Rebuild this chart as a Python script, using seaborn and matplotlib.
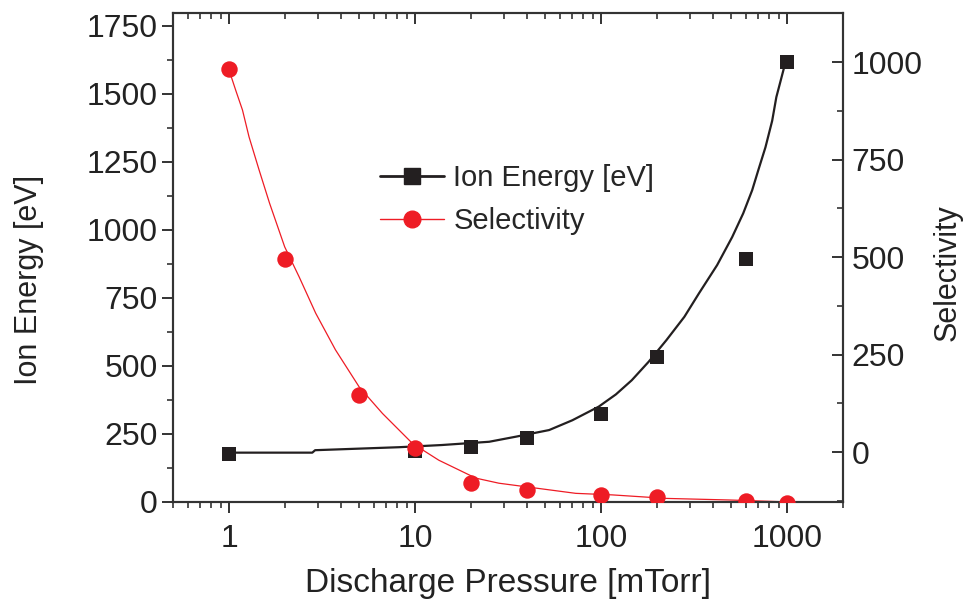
import numpy as np
import pandas as pd
import matplotlib
matplotlib.use("Agg")
import matplotlib.pyplot as plt
import seaborn as sns
from matplotlib.lines import Line2D
from matplotlib.ticker import LogLocator, MultipleLocator, NullFormatter

# --- data ---
pressure = [1, 10, 20, 40, 100, 200, 600, 1000]
ion_energy = [175, 188, 202, 235, 322, 532, 892, 1615]
selectivity_p = [1, 2, 5, 10, 20, 40, 100, 200, 600, 1000]
selectivity = [982, 494, 146, 9, -79, -97, -110, -116, -125, -130]

# fitted curves
ion_fit_x = [1, 2.8, 2.9, 8.2, 13.9, 25, 35, 52.5, 70, 97, 120, 146, 180, 224, 280, 336,
             420, 506, 580, 648, 700, 764, 830, 874, 920, 963, 1000]
ion_fit_y = [181, 181, 190, 201, 209, 221, 240, 264, 300, 350, 395, 447, 515, 594, 680, 767,
             870, 973, 1060, 1145, 1220, 1303, 1400, 1487, 1545, 1597, 1615]
sel_fit_x = [1, 1.09, 1.18, 1.28, 1.45, 1.65, 1.99, 2.38, 2.92, 3.73, 5.0, 6.67, 9.67, 13.4,
             21.2, 28.2, 52.5, 73, 115, 224, 487, 874, 1000]
sel_fit_y = [979, 925, 877, 808, 723, 638, 526, 449, 356, 262, 167, 99, 22, -21,
             -67, -80, -97, -106, -110, -119, -123, -127, -128]

RED = "#ee1c25"
BLACK = "#231f20"

sns.set_theme(style="ticks")
plt.rcParams["font.family"] = ["Liberation Sans", "DejaVu Sans"]
plt.rcParams["xtick.direction"] = "out"
plt.rcParams["ytick.direction"] = "out"

fig = plt.figure(figsize=(9.67, 6.04), dpi=100)
ax = fig.add_axes([0.179, 0.169, 0.693, 0.809])
ax2 = ax.twinx()

# Ion energy (left axis)
sns.lineplot(x=ion_fit_x, y=ion_fit_y, ax=ax, color=BLACK, lw=1.6, sort=False)
sns.scatterplot(x=pressure, y=ion_energy, ax=ax, marker="s", s=115, color=BLACK,
                edgecolor=BLACK, linewidth=0, zorder=5)

# Selectivity (right axis)
sns.lineplot(x=sel_fit_x, y=sel_fit_y, ax=ax2, color=RED, lw=0.9, sort=False)
sns.scatterplot(x=selectivity_p, y=selectivity, ax=ax2, marker="o", s=140, color=RED,
                edgecolor=RED, linewidth=0, zorder=5)

ax.set_xscale("log")
ax.set_xlim(0.5, 2000)
ax.set_ylim(0, 1795)
ax2.set_ylim(-128, 1125)

ax.set_xticks([1, 10, 100, 1000])
ax.set_xticklabels(["1", "10", "100", "1000"])
ax.xaxis.set_minor_locator(LogLocator(base=10, subs=np.arange(2, 10), numticks=20))
ax.xaxis.set_minor_formatter(NullFormatter())
ax.yaxis.set_major_locator(MultipleLocator(250))
ax.yaxis.set_minor_locator(MultipleLocator(125))
ax2.set_yticks([0, 250, 500, 750, 1000])
ax2.yaxis.set_minor_locator(MultipleLocator(125))

ax.tick_params(axis="both", which="major", labelsize=23, length=8, width=1.4, color="#333333", labelcolor="#222222")
ax.tick_params(axis="both", which="minor", length=4, width=1.2, color="#333333")
ax.tick_params(axis="x", which="both", top=True, pad=8)
ax.tick_params(axis="y", which="major", pad=3)
ax2.tick_params(axis="y", which="major", direction="in", labelsize=23, length=8, width=1.4, color="#333333", labelcolor="#222222", pad=6)
ax2.tick_params(axis="y", which="minor", direction="in", length=4, width=1.2, color="#333333")
# top ticks point into the plot
for t in ax.xaxis.get_major_ticks() + ax.xaxis.get_minor_ticks():
    t.tick2line.set_marker(3)

for a in (ax, ax2):
    for s in a.spines.values():
        s.set_linewidth(1.5)
        s.set_color("#333333")
        s.set_visible(True)

ax.set_xlabel("Discharge Pressure [mTorr]", fontsize=24, color="#222222", labelpad=10)
ax.set_ylabel("Ion Energy [eV]", fontsize=22, color="#222222")
ax2.set_ylabel("Selectivity", fontsize=22, color="#222222")
ax.yaxis.set_label_coords(-0.193, 0.455)
ax2.yaxis.set_label_coords(1.133, 0.47)

handles = [
    Line2D([], [], color=BLACK, lw=2, marker="s", markersize=11),
    Line2D([], [], color=RED, lw=1, marker="o", markersize=12),
]
ax.legend(handles, ["Ion Energy [eV]", "Selectivity"], loc="upper left",
          bbox_to_anchor=(0.27, 0.745), frameon=False, fontsize=21,
          handlelength=2.2, labelspacing=0.5, handletextpad=0.3)

fig.savefig("out.png", dpi=100)
